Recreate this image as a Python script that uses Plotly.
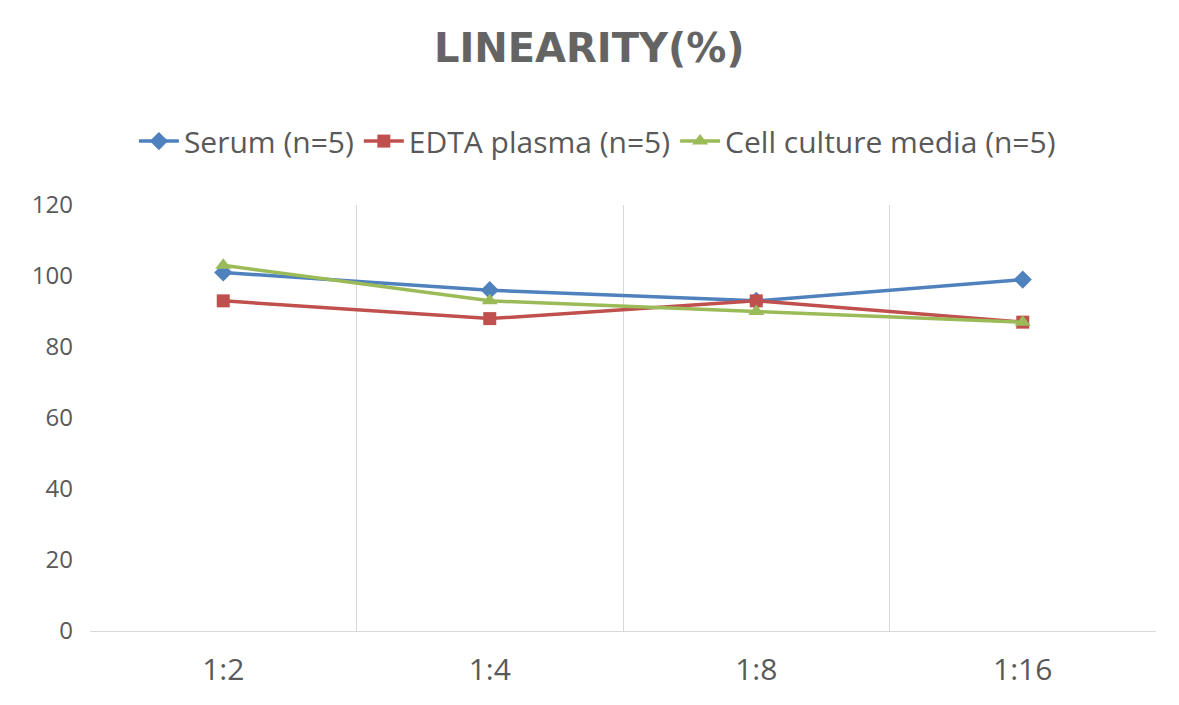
import plotly.graph_objects as go

dilutions = ["1:2", "1:4", "1:8", "1:16"]
serum = [101, 96, 93, 99]
edta_plasma = [93, 88, 93, 87]
cell_culture = [103, 93, 90, 87]

series = [
    ("Serum (n=5)", serum, "#4F81BD", "diamond", 14),
    ("EDTA plasma (n=5)", edta_plasma, "#C0504D", "square", 13),
    ("Cell culture media (n=5)", cell_culture, "#9BBB59", "triangle-up", 14),
]

fig = go.Figure()
for name, vals, color, symbol, size in series:
    fig.add_trace(go.Scatter(
        x=dilutions, y=vals, name=name, mode="lines+markers",
        line=dict(color=color, width=3.5),
        marker=dict(symbol=symbol, size=size, color=color),
    ))

# page is offset 8px by the body margin, so margins are shifted to compensate
fig.update_layout(
    width=1179, height=705,
    paper_bgcolor="white", plot_bgcolor="white",
    font=dict(family="Open Sans, DejaVu Sans, sans-serif", color="#595959"),
    title=dict(text="<b>LINEARITY(%)</b>", x=0.493, xanchor="center", y=0.943, yanchor="middle",
               font=dict(family="DejaVu Sans, sans-serif", size=40, color="#646464")),
    legend=dict(orientation="h", x=0.476, xanchor="center", y=1.15, yanchor="middle",
                font=dict(size=30, color="#595959"), itemwidth=40),
    margin=dict(l=82, r=31, t=197, b=82, autoexpand=False),
    showlegend=True,
)
fig.update_xaxes(
    type="category", tickson="boundaries", range=[-0.5, 3.5],
    showgrid=True, gridcolor="#D9D9D9", gridwidth=1,
    showline=True, linecolor="#D9D9D9", linewidth=1,
    ticks="", ticklabelstandoff=12, tickfont=dict(size=30, color="#595959"), zeroline=False,
)
fig.update_yaxes(
    range=[0, 120], dtick=20, showgrid=False, zeroline=False,
    showline=False, ticks="", ticklabelstandoff=16, tickfont=dict(size=24, color="#595959"),
)

fig.write_html("out.html")
